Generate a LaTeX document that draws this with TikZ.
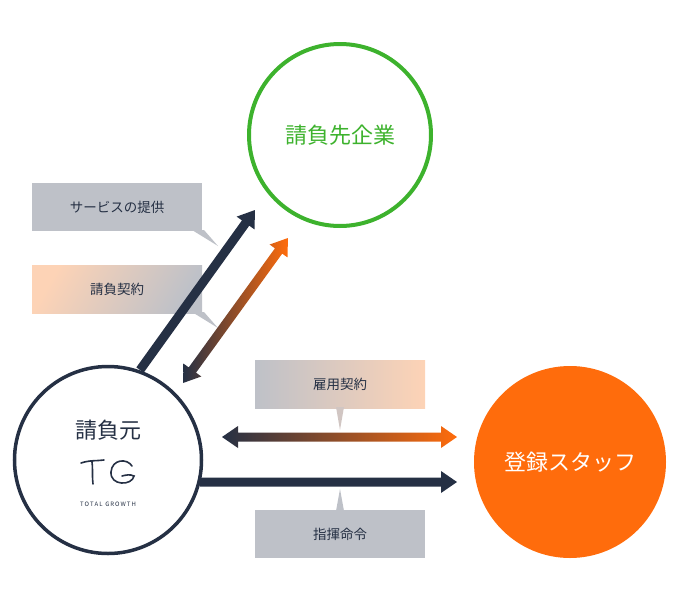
\documentclass[tikz,border=0pt]{standalone}
\usepackage{fontspec}
\setmainfont{Noto Sans CJK JP}
\definecolor{navy}{HTML}{253044}
\definecolor{org}{HTML}{FF6C0C}
\definecolor{grn}{HTML}{3DB22D}
\definecolor{gbox}{HTML}{BEC1C8}
\definecolor{peach}{HTML}{FDD3B6}
\tikzset{
  lbl/.style={font=\fontsize{13.5}{13.5}\selectfont, text=navy},
  big/.style={font=\fontsize{22}{22}\selectfont},
}
\newcommand{\dblarrow}[1]{(0,0) -- (16,-11) -- (16,-4.5) -- (#1-16,-4.5) -- (#1-16,-11) -- (#1,0) -- (#1-16,11) -- (#1-16,4.5) -- (16,4.5) -- (16,11) -- cycle}
\newcommand{\sglarrow}[1]{(0,-4.5) -- (#1-16,-4.5) -- (#1-16,-11) -- (#1,0) -- (#1-16,11) -- (#1-16,4.5) -- (0,4.5) -- cycle}
\begin{document}
\begin{tikzpicture}[x=1pt,y=-1pt]
\useasboundingbox (0,0) rectangle (680,600);
% circles
\node[circle, draw=grn, line width=4, minimum size=182, text=grn, big] (client) at (340,135) {請負先企業};
\node[circle, draw=navy, line width=3.5, minimum size=187] (contr) at (108,460) {};
\node[circle, fill=org, minimum size=192, text=white, big] (staff) at (570,462) {登録スタッフ};
\node[big, text=navy] (contrlbl) at (108,430) {請負元};
% TG logo
\draw[navy, line width=1.6, line cap=round, line join=round]
  (81,463) .. controls (90,460) and (97,461) .. (104,460)
  (92,462) .. controls (93,470) and (92,477) .. (93,484);
\draw[navy, line width=1.6, line cap=round]
  (132,466) .. controls (127,458) and (112,459) .. (111,472)
  .. controls (110,486) and (132,486) .. (134,476)
  .. controls (130,474) and (126,475) .. (122,476);
\node[font=\fontsize{6}{6}\selectfont, text=navy] (tgtxt) at (108,504) {T\,O\,T\,A\,L\ \ G\,R\,O\,W\,T\,H};
% callouts
\fill[gbox] (32,183) rectangle (202,231);
\fill[gbox] (192,230) -- (204,230) -- (218,246) -- cycle;
\node[lbl] (svc) at (117,207) {サービスの提供};
\shade[left color=peach, right color=gbox, shading angle=60] (32,265) rectangle (202,313);
\fill[gbox] (192,312) -- (204,312) -- (218,328) -- cycle;
\node[lbl] (ukeoi) at (117,289) {請負契約};
\shade[left color=gbox, right color=peach] (255,360) rectangle (425,408);
\fill[gbox!70!peach] (336,407) -- (344,407) -- (340,430) -- cycle;
\node[lbl] (koyo) at (340,384) {雇用契約};
\fill[gbox] (255,510) rectangle (425,558);
\fill[gbox] (336,511) -- (344,511) -- (340,489) -- cycle;
\node[lbl] (shiki) at (340,534) {指揮命令};
% arrows
\begin{scope}[shift={(140,370)}, rotate=54.3]
  \fill[navy] \sglarrow{197};
\end{scope}
\begin{scope}[shift={(183,383)}, rotate=54.1]
  \shade[left color=navy, right color=org] \dblarrow{179};
\end{scope}
\begin{scope}[shift={(222,437)}]
  \shade[left color=navy, right color=org] \dblarrow{235};
\end{scope}
\begin{scope}[shift={(200,482)}]
  \fill[navy] \sglarrow{257};
\end{scope}
\end{tikzpicture}
\end{document}
